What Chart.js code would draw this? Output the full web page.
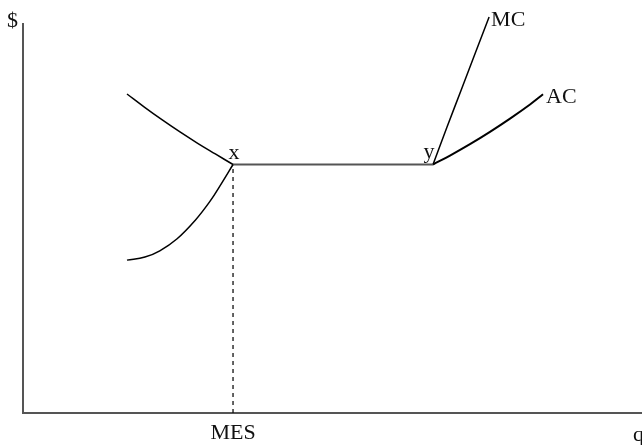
<!DOCTYPE html>
<html>
<head>
<meta charset="utf-8">
<script src="https://cdn.jsdelivr.net/npm/chart.js@4/dist/chart.umd.min.js"></script>
<style>
  html, body { margin: 0; padding: 0; background: #fff; }
  #wrap { width: 642px; height: 445px; position: relative; }
</style>
</head>
<body>
<div id="wrap"><canvas id="c" width="642" height="445"></canvas></div>
<script>
// Quantity (x) and cost (y) readings, on a 0–100 scale of each axis
const acLeftQ  = [16.80, 19.66, 22.50, 25.36, 28.22, 31.07, 33.93];
const acLeftC  = [82.00, 78.57, 75.33, 72.24, 69.32, 66.59, 63.88];
const flatQ    = [33.93, 66.24];
const flatC    = [63.88, 63.88];
const acRightQ = [66.24, 68.98, 72.21, 75.44, 78.68, 81.91, 84.01];
const acRightC = [63.88, 66.19, 69.12, 72.29, 75.69, 79.32, 81.94];
const mcLeftQ  = [16.8, 19.7, 22.1, 24.9, 27.8, 30.2, 32.1, 33.93];
const mcLeftC  = [39.3, 40.1, 41.7, 44.8, 49.5, 54.4, 59.1, 63.88];
const mcRightQ = [66.24, 68.5, 70.9, 75.3];
const mcRightC = [63.88, 73.5, 83.5, 101.8];
const mesQ     = [33.93, 33.93];
const mesC     = [0, 63.88];
const axisLabels = { y: '$', x: 'q' };
const pointLabels = ['x', 'y', 'MC', 'AC', 'MES'];

const pts = (xs, ys) => xs.map((v, i) => ({ x: v, y: ys[i] }));

const FONT = '22px "Liberation Serif", "Times New Roman", serif';

const labelPlugin = {
  id: 'labels',
  afterDatasetsDraw(chart) {
    const { ctx, scales: { x, y } } = chart;
    const px = v => x.getPixelForValue(v);
    const py = v => y.getPixelForValue(v);
    ctx.save();
    ctx.fillStyle = '#111';
    ctx.font = FONT;
    ctx.textBaseline = 'alphabetic';
    ctx.textAlign = 'center';
    ctx.fillText(pointLabels[0], px(flatQ[0]) + 1, py(flatC[0]) - 6);
    ctx.fillText(pointLabels[1], px(flatQ[1]) - 4, py(flatC[1]) - 7);
    ctx.textAlign = 'left';
    ctx.fillText(pointLabels[2], px(mcRightQ[mcRightQ.length - 1]) + 2, py(mcRightC[mcRightC.length - 1]) + 9);
    ctx.fillText(pointLabels[3], px(acRightQ[acRightQ.length - 1]) + 3, py(acRightC[acRightC.length - 1]) + 9);
    ctx.textAlign = 'center';
    ctx.fillText(pointLabels[4], px(mesQ[0]), y.bottom + 26);
    ctx.textAlign = 'right';
    ctx.fillText(axisLabels.y, x.left - 5, y.top + 3);
    ctx.textAlign = 'left';
    ctx.fillText(axisLabels.x, x.right - 9, y.bottom + 28);
    ctx.restore();
  }
};

const curve = (data, extra) => Object.assign({
  data, showLine: true, pointRadius: 0, borderColor: '#000', borderWidth: 1.5,
  tension: 0.4, fill: false
}, extra || {});

new Chart(document.getElementById('c'), {
  type: 'scatter',
  data: {
    datasets: [
      curve(pts(acLeftQ, acLeftC)),
      curve(pts(mcLeftQ, mcLeftC)),
      curve(pts(flatQ, flatC), { borderColor: '#555', borderWidth: 2, tension: 0 }),
      curve(pts(acRightQ, acRightC), { borderWidth: 2 }),
      curve(pts(mcRightQ, mcRightC), { clip: false }),
      curve(pts(mesQ, mesC), { borderDash: [4, 4], borderWidth: 1.3, borderColor: '#111', tension: 0 })
    ]
  },
  options: {
    responsive: false,
    animation: false,
    layout: { padding: { left: 23, top: 24, right: 0, bottom: 32 } },
    plugins: { legend: { display: false }, tooltip: { enabled: false } },
    scales: {
      x: {
        type: 'linear', min: 0, max: 100,
        ticks: { display: false },
        grid: { display: false, drawTicks: false, tickLength: 0 },
        border: { display: true, color: '#555', width: 2 }
      },
      y: {
        type: 'linear', min: 0, max: 100,
        ticks: { display: false },
        grid: { display: false, drawTicks: false, tickLength: 0 },
        border: { display: true, color: '#555', width: 2 }
      }
    }
  },
  plugins: [labelPlugin]
});
</script>
</body>
</html>
